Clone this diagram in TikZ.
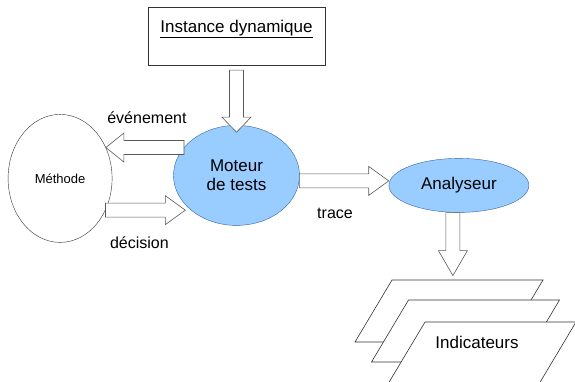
\documentclass[tikz,border=0pt]{standalone}
\usepackage{fontspec}
\setmainfont{Liberation Sans}
\usetikzlibrary{positioning,shapes.geometric,calc}
\definecolor{ellblue}{HTML}{99CCFF}
\definecolor{ellline}{HTML}{3465A4}

% hollow block arrow from #2 to #3, #1 = head length
\newcommand{\blockarrow}[3][20]{%
  \coordinate (ba-h) at ($(#3)!#1pt!(#2)$);
  \draw[blockarr] ($(#2)!7pt!-90:(#3)$) -- ($(ba-h)!7pt!-90:(#3)$)
    -- ($(ba-h)!14.5pt!-90:(#3)$) -- (#3) -- ($(ba-h)!14.5pt!90:(#3)$)
    -- ($(ba-h)!7pt!90:(#3)$) -- ($(#2)!7pt!90:(#3)$) -- cycle;}

\begin{document}
\begin{tikzpicture}[x=1pt, y=1pt,
    instbox/.style={rectangle, draw=black!80, fill=white, minimum width=177pt, minimum height=58pt,
                    font=\fontsize{17}{20}\selectfont, align=center, inner sep=0pt},
    blueell/.style={ellipse, draw=ellline, fill=ellblue, inner sep=0pt, align=center,
                    font=\fontsize{17}{19}\selectfont},
    whiteell/.style={ellipse, draw=black!80, fill=white, inner sep=0pt, font=\fontsize{13}{15}\selectfont},
    indic/.style={draw=black!80, fill=white, line width=0.6pt},
    blockarr/.style={draw=black!65, fill=white, line width=0.6pt, line join=miter},
    lbl/.style={font=\fontsize{16}{19}\selectfont},
    node distance=60pt
]
\useasboundingbox (0,0) rectangle (575,-382);

\node[instbox] (inst) at (236.5,-36) {\underline{Instance dynamique}\\ \mbox{}};
\node[blueell, minimum width=126pt, minimum height=100pt, below=60pt of inst] (moteur) {Moteur\\de tests};
\node[whiteell, minimum width=104pt, minimum height=128pt, left=61pt of moteur, yshift=-3pt] (methode) {Méthode};
\node[blueell, minimum width=140pt, minimum height=54pt, right=89pt of moteur, yshift=-10pt] (analyseur) {Analyseur};

% stacked sheets
\foreach \dx/\dy in {0/0, 16.5/-20, 33/-42}
  \draw[indic, shift={(\dx,\dy)}] (355,-342) -- (392,-280) -- (543,-280) -- (506,-342) -- cycle;
\node[font=\fontsize{17}{20}\selectfont] (ind) at (477,-342) {Indicateurs};

% arrow ends
\coordinate (inst-out) at ($(inst.south)+(0,-5)$);
\coordinate (mot-in) at ($(moteur.north)+(0,-7)$);
\coordinate (ev-t) at (methode.34);
\coordinate (ev-s) at (moteur.152 |- ev-t);
\coordinate (dec-s) at (methode.-35);
\coordinate (dec-t) at ($(moteur.west |- dec-s)+(12,0)$);
\coordinate (tr-s) at (moteur.-5);
\coordinate (tr-t) at (analyseur.west |- tr-s);
\coordinate (an-out) at ($(analyseur.south)+(-6,0)$);
\coordinate (ind-in) at ($(an-out)+(0,-63)$);

\blockarrow[15]{inst-out}{mot-in}
\blockarrow[18]{ev-s}{ev-t}
\blockarrow{dec-s}{dec-t}
\blockarrow{tr-s}{tr-t}
\blockarrow[25]{an-out}{ind-in}

\node[lbl] (evlbl) at ($(ev-s)!.5!(ev-t)+(2,30)$) {événement};
\node[lbl] (declbl) at ($(dec-s)!.5!(dec-t)+(-6,-33)$) {décision};
\node[lbl] (trlbl) at ($(tr-s)!.5!(tr-t)+(-9,-33)$) {trace};
\end{tikzpicture}
\end{document}
